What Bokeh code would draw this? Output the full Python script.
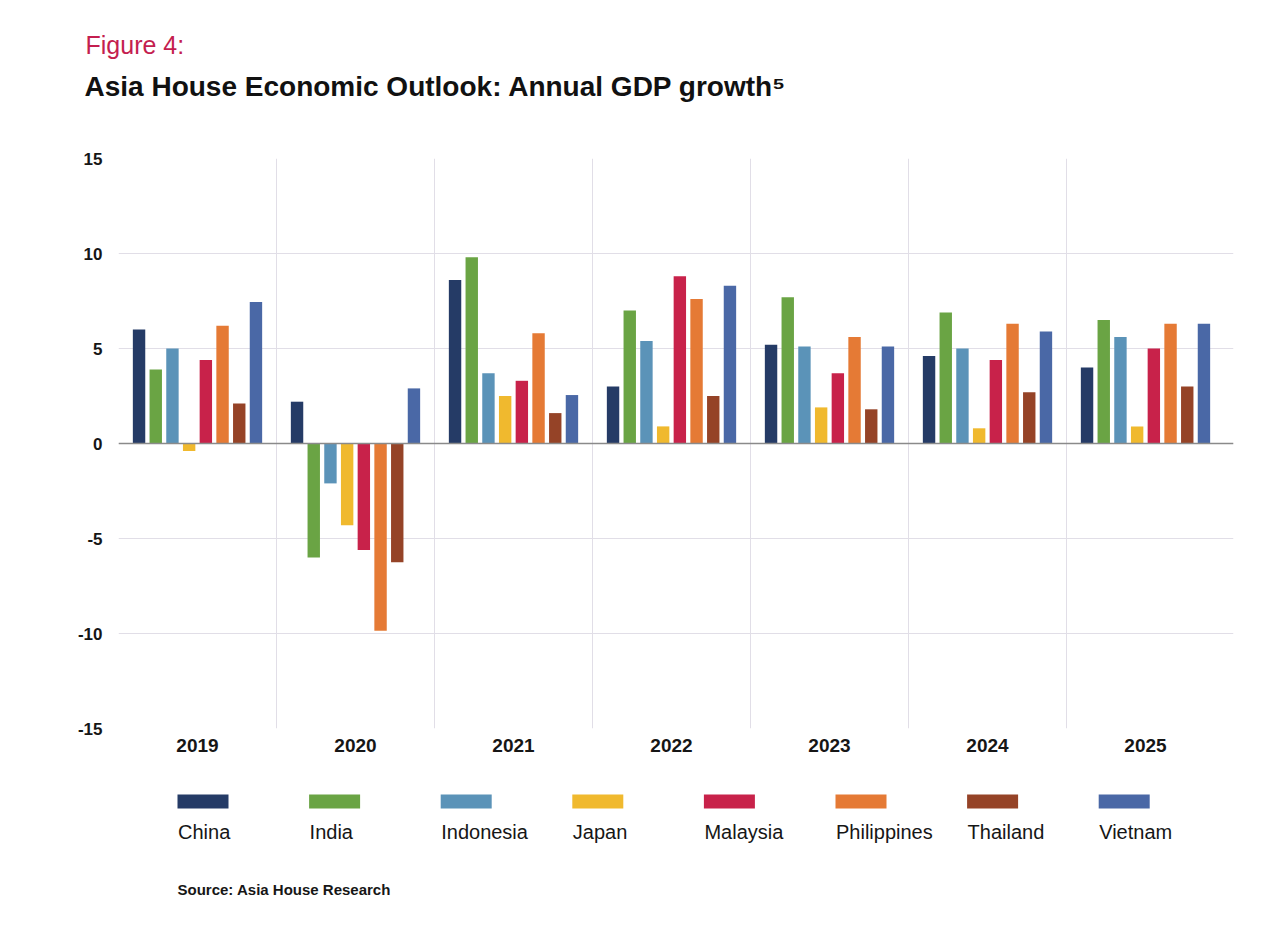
from bokeh.plotting import figure
from bokeh.models import Range1d, FixedTicker, Span, Label, ColumnDataSource, Title
from bokeh.layouts import column
from bokeh.core.properties import value
from bokeh.embed import file_html
from bokeh.resources import INLINE

# ---------------- data ----------------
years = ["2019", "2020", "2021", "2022", "2023", "2024", "2025"]
countries = ["China", "India", "Indonesia", "Japan", "Malaysia", "Philippines", "Thailand", "Vietnam"]
colors = ["#253b66", "#6aa444", "#5b93b8", "#f0b92e", "#c8224a", "#e57a35", "#954327", "#4a68a6"]

china = [6.0, 2.2, 8.6, 3.0, 5.2, 4.6, 4.0]
india = [3.9, -6.0, 9.8, 7.0, 7.7, 6.9, 6.5]
indonesia = [5.0, -2.1, 3.7, 5.4, 5.1, 5.0, 5.6]
japan = [-0.4, -4.3, 2.5, 0.9, 1.9, 0.8, 0.9]
malaysia = [4.4, -5.6, 3.3, 8.8, 3.7, 4.4, 5.0]
philippines = [6.2, -9.85, 5.8, 7.6, 5.6, 6.3, 6.3]
thailand = [2.1, -6.25, 1.6, 2.5, 1.8, 2.7, 3.0]
vietnam = [7.45, 2.9, 2.55, 8.3, 5.1, 5.9, 6.3]
series = [china, india, indonesia, japan, malaysia, philippines, thailand, vietnam]

y_ticks = [-15, -10, -5, 0, 5, 10, 15]

title_text = "Asia House Economic Outlook: Annual GDP growth\u2075"
figure_text = "Figure 4:"
source_text = "Source: Asia House Research"

# ---------------- style ----------------
FONT = "Liberation Sans"
W = 1280
BL, BR = 118, 47                 # shared left/right borders (frames are aligned in a column)
FRAME_W = W - BL - BR            # 1115
GROUP_PX = 158.0
PITCH = 16.7 / GROUP_PX
BAR_W = 12.4 / GROUP_PX
GRID = "#e1dee7"
TXT = "#161616"

# ---------------- main chart ----------------
p = figure(width=W, height=770, x_range=Range1d(0, FRAME_W / GROUP_PX), y_range=Range1d(-15, 15),
           title=None, output_backend="svg", toolbar_location=None,
           min_border_left=BL, min_border_right=BR, min_border_top=158, min_border_bottom=42)
p.outline_line_color = None

# titles stack outward from the plot frame: spacer, main title, "Figure 4:"
p.add_layout(Title(text=" ", text_font=FONT, text_font_size="1px", standoff=45), "above")
p.add_layout(Title(text=title_text, text_font=FONT, text_font_size="28px", text_font_style="bold",
                   text_color="#111111", align="left", offset=-34, standoff=18), "above")
p.add_layout(Title(text=figure_text, text_font=FONT, text_font_size="25px", text_font_style="normal",
                   text_color="#c41e4f", align="left", offset=-33, standoff=1), "above")

for i, (name, col, vals) in enumerate(zip(countries, colors, series)):
    xs = [k + 0.5 + (i - 3.5) * PITCH for k in range(len(years))]
    src = ColumnDataSource(dict(x=xs, top=vals, year=years))
    p.vbar(x="x", top="top", bottom=0, width=BAR_W, source=src,
           fill_color=col, line_color=None)

p.add_layout(Span(location=0, dimension="width", line_color="#8a8a8a", line_width=1.5))

p.yaxis.ticker = FixedTicker(ticks=y_ticks)
p.yaxis.major_label_overrides = {t: str(t) for t in y_ticks}
p.ygrid.ticker = FixedTicker(ticks=y_ticks)
p.ygrid.grid_line_color = GRID
p.ygrid.grid_line_width = 1

p.xaxis.ticker = FixedTicker(ticks=[k + 0.5 for k in range(len(years))])
p.xaxis.major_label_overrides = {k + 0.5: y for k, y in enumerate(years)}
p.xgrid.ticker = FixedTicker(ticks=list(range(1, len(years))))
p.xgrid.grid_line_color = GRID
p.xgrid.grid_line_width = 1

for ax in (p.xaxis, p.yaxis):
    ax.axis_line_color = None
    ax.major_tick_line_color = None
    ax.minor_tick_line_color = None
    ax.major_label_text_font = FONT
    ax.major_label_text_font_style = "bold"
    ax.major_label_text_color = TXT
p.yaxis.major_label_text_font_size = "17px"
p.yaxis.major_label_standoff = 10
p.xaxis.major_label_text_font_size = "19px"
p.xaxis.major_label_standoff = 4

# ---------------- legend ----------------
LG_H = 158
CELL_PX = 131.6                  # horizontal pitch of legend items
LG_START_PX = 59                 # first item starts this far right of the frame's left edge
x0 = -LG_START_PX / CELL_PX
lg = figure(width=W, height=LG_H, x_range=Range1d(x0, x0 + FRAME_W / CELL_PX),
            y_range=Range1d(LG_H, 0),
            output_backend="svg", toolbar_location=None,
            x_axis_location=None, y_axis_location=None,
            min_border_left=BL, min_border_right=BR, min_border_top=0, min_border_bottom=0)
lg.grid.visible = False
lg.outline_line_color = None
idx = list(range(len(countries)))
lsrc = ColumnDataSource(dict(
    country=countries, color=colors,
    sx=[i + 25.5 / CELL_PX for i in idx],
    tx=[i + 0.5 / CELL_PX for i in idx],
))
lg.rect(x="sx", y=31, width=51, height=14, width_units="screen", height_units="screen",
        fill_color="color", line_color=None, source=lsrc)
lg.text(x="tx", y=61, text="country",
        text_font=value(FONT), text_font_size="20px", text_color=TXT,
        text_align="left", text_baseline="alphabetic", source=lsrc)
lg.add_layout(Label(x=0.0, y=119, text=source_text, text_font=FONT, text_font_size="15px",
                    text_font_style="bold", text_color=TXT, text_baseline="alphabetic"))

layout = column(p, lg, spacing=0)
open("out.html", "w").write(file_html(layout, INLINE))
